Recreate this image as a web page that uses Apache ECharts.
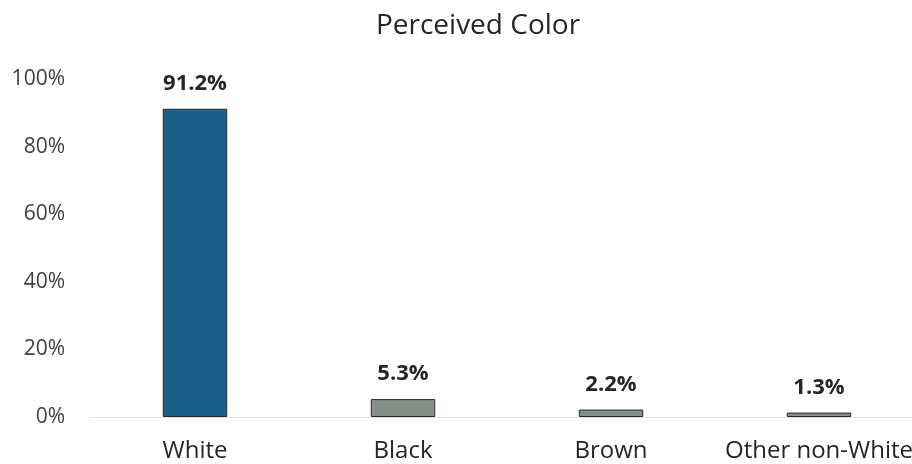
<!DOCTYPE html>
<html>
<head>
<meta charset="utf-8">
<script src="https://cdn.jsdelivr.net/npm/echarts@6/dist/echarts.min.js"></script>
<style>html,body{margin:0;padding:0;background:#fff;}#c{width:912px;height:464px;}</style>
</head>
<body>
<div id="c"></div>
<script>
const title = "Perceived Color";
const categories = ["White", "Black", "Brown", "Other non-White"];
const values = [91.2, 5.3, 2.2, 1.3];
const yTicks = [0, 20, 40, 60, 80, 100];

const barColors = ["#195f89", "#84908a", "#84908a", "#84908a"];

const chart = echarts.init(document.getElementById('c'), null, {renderer: 'canvas'});
chart.setOption({
  backgroundColor: '#ffffff',
  animation: false,
  title: {
    text: title,
    left: 473, top: 7, textAlign: 'center',
    textStyle: {fontFamily: 'Open Sans', fontWeight: 'normal', fontSize: 28, color: '#262626'}
  },
  grid: {left: 91, width: 832, top: 79, bottom: 47, containLabel: false, outerBoundsMode: 'none'},
  xAxis: {
    type: 'category',
    data: categories,
    axisTick: {show: false},
    axisLine: {lineStyle: {color: '#e0e0e0', width: 1}},
    axisLabel: {margin: 22, fontFamily: 'Open Sans', fontSize: 24, color: '#262626', interval: 0, hideOverlap: false}
  },
  yAxis: {
    type: 'value',
    min: yTicks[0], max: yTicks[yTicks.length - 1], interval: 20,
    splitLine: {show: false},
    axisLine: {show: false},
    axisTick: {show: false},
    axisLabel: {margin: 26, fontFamily: 'Open Sans', fontSize: 21, color: '#404040',
      formatter: v => v + '%'}
  },
  series: [{
    type: 'bar',
    data: values.map((v, i) => ({value: v, itemStyle: {color: barColors[i]}})),
    barWidth: '31%',
    itemStyle: {borderColor: '#2a2a2a', borderWidth: 1},
    label: {
      show: true, position: 'top', distance: 14,
      fontFamily: 'Open Sans', fontWeight: 'bold', fontSize: 22, color: '#262626',
      formatter: p => p.value.toFixed(1) + '%'
    }
  }]
});
</script>
</body>
</html>
